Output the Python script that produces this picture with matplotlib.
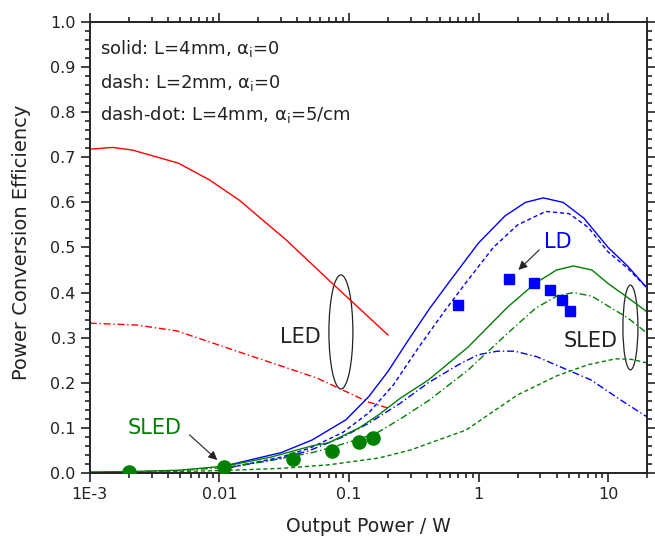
import numpy as np
import matplotlib
matplotlib.use('Agg')
import matplotlib.pyplot as plt
from matplotlib.patches import Ellipse
from matplotlib.ticker import MultipleLocator, FixedLocator, FixedFormatter, LogLocator, NullFormatter

plt.rcParams['font.family'] = ['DejaVu Sans']
plt.rcParams['mathtext.fontset'] = 'dejavusans'

# LED curves
led_x = [1e-3, 0.0015, 0.00214, 0.00484, 0.00838, 0.01425, 0.0327, 0.074, 0.2]
led_solid = [0.718, 0.722, 0.716, 0.687, 0.65, 0.605, 0.517, 0.421, 0.306]
led_dd_x = [1e-3, 0.0023, 0.0047, 0.015, 0.056, 0.142, 0.2]
led_dd = [0.332, 0.328, 0.315, 0.266, 0.211, 0.157, 0.144]

# LD curves
ld_x = [0.012, 0.03, 0.052, 0.095, 0.142, 0.2, 0.288, 0.42, 0.61, 1.0, 1.6, 2.3, 3.16, 4.5, 6.5, 10, 14, 20]
ld_solid = [0.018, 0.045, 0.073, 0.118, 0.169, 0.225, 0.295, 0.365, 0.428, 0.51, 0.57, 0.60, 0.61, 0.60, 0.565, 0.50, 0.46, 0.41]
ld_dash_x = [0.012, 0.03, 0.05, 0.09, 0.142, 0.22, 0.346, 0.55, 0.83, 1.3, 2.0, 3.3, 5.0, 7.0, 10, 14, 20]
ld_dash = [0.012, 0.035, 0.055, 0.09, 0.133, 0.195, 0.279, 0.36, 0.428, 0.50, 0.55, 0.58, 0.575, 0.545, 0.49, 0.455, 0.41]
ld_dd_x = [0.012, 0.03, 0.05, 0.09, 0.142, 0.25, 0.41, 0.7, 0.99, 1.4, 1.9, 2.8, 4.3, 7.4, 12, 20]
ld_dd = [0.012, 0.032, 0.05, 0.08, 0.11, 0.155, 0.2, 0.24, 0.262, 0.27, 0.27, 0.258, 0.235, 0.206, 0.165, 0.124]

# SLED curves
sled_x = [1e-3, 0.002, 0.0049, 0.011, 0.025, 0.052, 0.07, 0.12, 0.17, 0.25, 0.41, 0.83, 1.68, 2.75, 4.0, 5.4, 7.5, 10, 14, 20]
sled_solid = [0.002, 0.003, 0.006, 0.015, 0.035, 0.06, 0.067, 0.1, 0.129, 0.166, 0.206, 0.279, 0.368, 0.421, 0.45, 0.459, 0.45, 0.42, 0.39, 0.357]
sled_dd = [0.001, 0.002, 0.005, 0.012, 0.028, 0.045, 0.055, 0.075, 0.091, 0.12, 0.16, 0.228, 0.31, 0.365, 0.392, 0.40, 0.392, 0.37, 0.345, 0.31]
sled_dash_x = [1e-3, 0.003, 0.01, 0.03, 0.07, 0.17, 0.3, 0.8, 2.0, 4.0, 7.0, 11.4, 15, 20]
sled_dash = [0.0, 0.002, 0.005, 0.01, 0.018, 0.033, 0.051, 0.095, 0.173, 0.215, 0.24, 0.253, 0.252, 0.244]

# measured points
sled_pts_x = [0.002, 0.0109, 0.037, 0.074, 0.119, 0.153]
sled_pts_y = [0.002, 0.013, 0.031, 0.049, 0.069, 0.078]
ld_pts_x = [0.69, 1.73, 2.70, 3.58, 4.43, 5.1]
ld_pts_y = [0.373, 0.430, 0.421, 0.406, 0.384, 0.359]

blue = '#0000ff'
red = '#ff0000'
green = '#008000'
ink = '#222222'
dash = (0, (3, 2))
dashdot = (0, (5, 2, 1, 2))

fig = plt.figure(figsize=(6.55, 5.38), dpi=100)
ax = fig.add_axes([0.137, 0.121, 0.851, 0.838])

ax.plot(led_x, led_solid, color=red, lw=1)
ax.plot(led_dd_x, led_dd, color=red, lw=1, linestyle=dashdot)
ax.plot(ld_x, ld_solid, color=blue, lw=1)
ax.plot(ld_dash_x, ld_dash, color=blue, lw=1, linestyle=dash)
ax.plot(ld_dd_x, ld_dd, color=blue, lw=1, linestyle=dashdot)
ax.plot(sled_x, sled_solid, color=green, lw=1)
ax.plot(sled_x, sled_dd, color=green, lw=1, linestyle=dashdot)
ax.plot(sled_dash_x, sled_dash, color=green, lw=1, linestyle=dash)

ax.plot(sled_pts_x, sled_pts_y, 'o', color=green, markersize=9.5, zorder=5)
ax.plot(ld_pts_x, ld_pts_y, 's', color=blue, markersize=7.5, zorder=5)

ax.set_xscale('log')
ax.set_xlim(1e-3, 20)
ax.set_ylim(0, 1.0)
ax.xaxis.set_major_locator(FixedLocator([1e-3, 1e-2, 1e-1, 1, 10]))
ax.xaxis.set_major_formatter(FixedFormatter(['1E-3', '0.01', '0.1', '1', '10']))
ax.xaxis.set_minor_locator(LogLocator(base=10, subs=np.arange(2, 10)))
ax.xaxis.set_minor_formatter(NullFormatter())
ax.yaxis.set_major_locator(MultipleLocator(0.1))
ax.yaxis.set_minor_locator(MultipleLocator(0.02))
ax.yaxis.set_major_formatter(plt.FuncFormatter(lambda v, p: '%.1f' % v))

ax.tick_params(which='both', direction='out', top=True, right=True, width=1.2, labelsize=11.5, colors=ink)
ax.tick_params(which='major', length=6.5)
ax.tick_params(which='minor', length=3.5)
for s in ax.spines.values():
    s.set_linewidth(1.4)
    s.set_color(ink)

ax.set_xlabel('Output Power / W', fontsize=13.5, color=ink)
ax.xaxis.set_label_coords(0.5, -0.098)
ax.set_ylabel('Power Conversion Efficiency', fontsize=14, color=ink)
ax.yaxis.set_label_coords(-0.105, 0.512)

ax.text(0.018, 0.942, 'solid: L=4mm, α$_\\mathrm{i}$=0', transform=ax.transAxes, fontsize=13, va='center', color=ink)
ax.text(0.018, 0.867, 'dash: L=2mm, α$_\\mathrm{i}$=0', transform=ax.transAxes, fontsize=13, va='center', color=ink)
ax.text(0.018, 0.794, 'dash-dot: L=4mm, α$_\\mathrm{i}$=5/cm', transform=ax.transAxes, fontsize=13, va='center', color=ink)

ax.text(0.377, 0.302, 'LED', transform=ax.transAxes, fontsize=15, ha='center', va='center', color=ink)
ax.text(0.898, 0.293, 'SLED', transform=ax.transAxes, fontsize=15, ha='center', va='center', color=ink)
ax.add_patch(Ellipse((0.4506, 0.3126), 0.043, 0.253, transform=ax.transAxes, fill=False, ec=ink, lw=0.9))
ax.add_patch(Ellipse((0.970, 0.3226), 0.027, 0.188, transform=ax.transAxes, fill=False, ec=ink, lw=0.9))

ax.annotate('', xy=(1.96, 0.446), xytext=(3.05, 0.499),
            arrowprops=dict(arrowstyle='-|>', color=ink, lw=0.8, mutation_scale=13))
ax.text(4.1, 0.512, 'LD', fontsize=15, ha='center', va='center', color=blue)
ax.annotate('', xy=(0.0100, 0.0244), xytext=(0.00567, 0.0887),
            arrowprops=dict(arrowstyle='-|>', color=ink, lw=0.8, mutation_scale=13))
ax.text(0.00316, 0.10, 'SLED', fontsize=15, ha='center', va='center', color=green)

fig.savefig('out.png', dpi=100)
